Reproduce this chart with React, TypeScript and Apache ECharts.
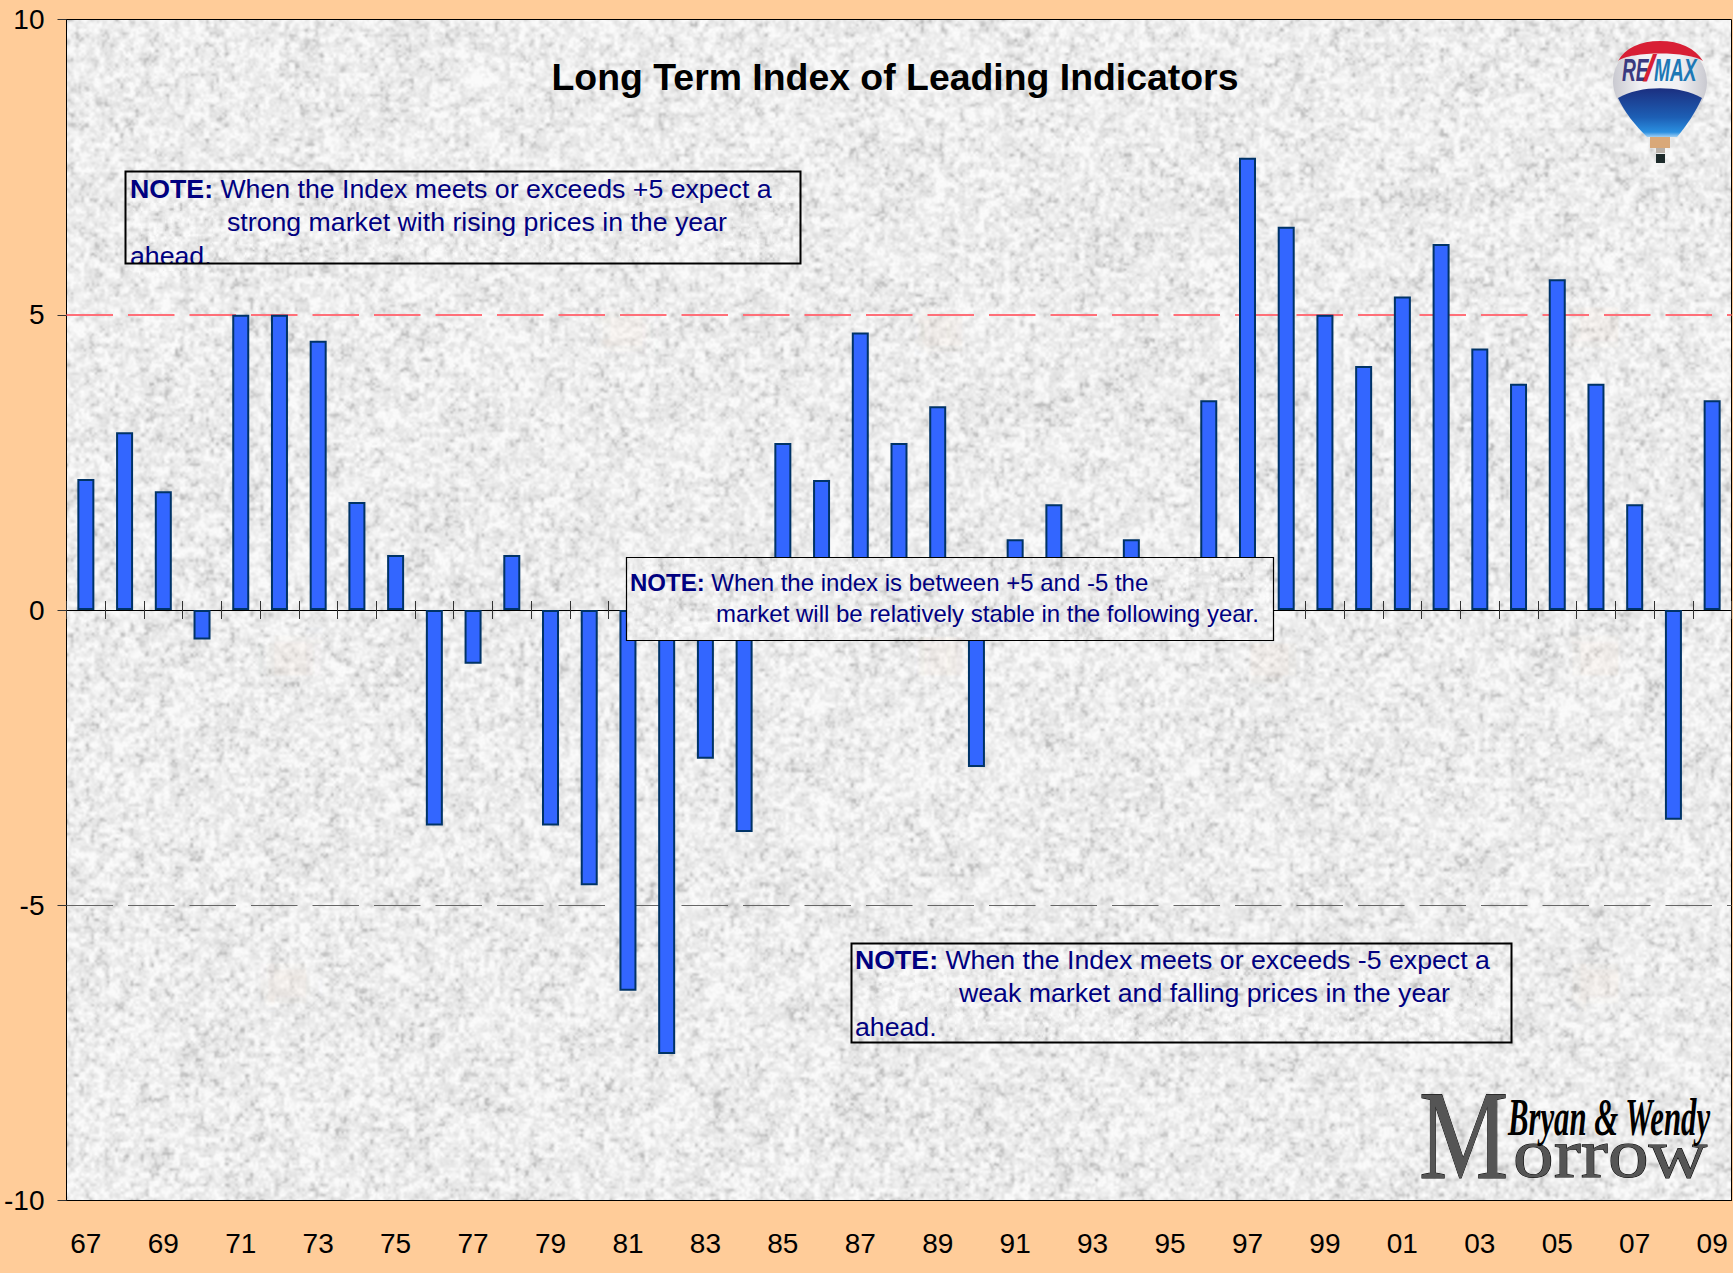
import React, { useEffect, useRef } from "react";
import * as echarts from "echarts";

const years = ["67","68","69","70","71","72","73","74","75","76","77","78","79","80","81","82","83","84","85","86","87","88","89","90","91","92","93","94","95","96","97","98","99","00","01","02","03","04","05","06","07","08","09"];
const indexValues = [2.22,3.01,2.01,-0.5,5.0,5.0,4.56,1.83,0.93,-3.65,-0.91,0.93,-3.65,-4.66,-6.45,-7.52,-2.52,-3.76,2.83,2.2,4.7,2.83,3.45,-2.66,1.2,1.79,0.6,1.2,0.6,3.55,7.66,6.49,5.0,4.13,5.31,6.2,4.43,3.83,5.6,3.83,1.79,-3.55,3.55];
const yTicks = { min: -10, max: 10, step: 5 };
const thresholds = { upper: 5, lower: -5 };
const titleText = "Long Term Index of Leading Indicators";
const watermarks = [[293,657],[625,330],[940,330],[940,657],[1272,660],[1597,657],[1597,326],[287,984],[1597,984]];

const W = 1733, H = 1273;
const PL = 66.5, PT = 19.5, PR = 1731.5, PB = 1200.5;

function makeTexture(w: number, h: number) {
  let s = 12345;
  const rnd = () => { s = (s * 1664525 + 1013904223) >>> 0; return s / 4294967296; };
  const octave = (cell: number) => {
    const gw = Math.ceil(w / cell) + 2, gh = Math.ceil(h / cell) + 2;
    const g = new Float32Array(gw * gh);
    for (let i = 0; i < g.length; i++) g[i] = rnd();
    return (x: number, y: number) => {
      const fx = x / cell, fy = y / cell;
      const ix = Math.floor(fx), iy = Math.floor(fy);
      let tx = fx - ix, ty = fy - iy;
      tx = tx * tx * (3 - 2 * tx); ty = ty * ty * (3 - 2 * ty);
      const a = g[iy * gw + ix], b = g[iy * gw + ix + 1], c = g[(iy + 1) * gw + ix], d = g[(iy + 1) * gw + ix + 1];
      return (a * (1 - tx) + b * tx) * (1 - ty) + (c * (1 - tx) + d * tx) * ty;
    };
  };
  const o1 = octave(5), o2 = octave(2.6), o3 = octave(30);
  const cv = document.createElement("canvas");
  cv.width = w; cv.height = h;
  const ctx = cv.getContext("2d")!;
  const img = ctx.createImageData(w, h);
  for (let y = 0; y < h; y++) {
    for (let x = 0; x < w; x++) {
      const n = 0.55 * o1(x, y) + 0.33 * o2(x, y) + 0.12 * o3(x, y);
      let v = 236 + (n - 0.5) * 62;
      if (n < 0.34) v -= (0.34 - n) * 90;
      v = Math.min(250, Math.max(190, v));
      const i = (y * w + x) * 4;
      img.data[i] = v; img.data[i + 1] = v; img.data[i + 2] = v; img.data[i + 3] = 255;
    }
  }
  ctx.putImageData(img, 0, 0);
  ctx.fillStyle = "rgba(245,232,215,0.2)";
  watermarks.forEach(([cx, cy]) => ctx.fillRect(cx - PL - 21, cy - PT - 18, 42, 36));
  return cv;
}
function crop(cv: HTMLCanvasElement, x: number, y: number, w: number, h: number) {
  const c = document.createElement("canvas");
  c.width = w; c.height = h;
  c.getContext("2d")!.drawImage(cv, x, y, w, h, 0, 0, w, h);
  return c.toDataURL("image/jpeg", 0.85);
}

const envelope = "M1660 41C1690 41 1707 62 1707 82C1707 102 1690 120 1677 137L1647 137C1632 120 1613 102 1613 82C1613 62 1630 41 1660 41Z";
const cap = "M1618 61C1625 48 1640 41 1660 41C1680 41 1695 48 1703 61C1690 51 1630 51 1618 61Z";
const blue = "M1618 98C1640 85 1680 85 1702 98C1695 113 1687 125 1677 137L1647 137C1635 125 1625 113 1618 98Z";
echarts.graphic.registerShape("balloonEnvelope", echarts.graphic.extendPath(envelope, {}));
echarts.graphic.registerShape("balloonCap", echarts.graphic.extendPath(cap, {}));
echarts.graphic.registerShape("balloonBlue", echarts.graphic.extendPath(blue, {}));

const NAVY = "#000080";
const FONT = "'Liberation Sans', Arial, sans-serif";
const SERIF = "'Liberation Serif', serif";

function noteBox(tex: HTMLCanvasElement, x: number, y: number, w: number, h: number, fontSize: number, lines: { x: number; y: number; t: string }[], border: number, clipBottom = 0) {
  const px = Math.round(x), py = Math.round(y), pw = Math.round(w), ph = Math.round(h);
  const els: any[] = [
    { type: "image", x: px, y: py, z: 20, silent: true, style: { image: crop(tex, px - 66, py - 19, pw, ph), width: pw, height: ph } },
  ];
  lines.forEach((l) => els.push({
    type: "text", x: l.x, y: l.y, z: 21, silent: true,
    style: {
      text: l.t, fill: NAVY, font: `${fontSize}px ${FONT}`, verticalAlign: "middle", align: "left",
      rich: { b: { font: `bold ${fontSize}px ${FONT}`, fill: NAVY } },
    },
  }));
  if (clipBottom) {
    els.push({ type: "image", x: px - 2, y: py + ph, z: 22, silent: true, style: { image: crop(tex, px - 68, py + ph - 19, 90, clipBottom), width: 90, height: clipBottom } });
  }
  els.push({ type: "rect", z: 23, silent: true, shape: { x: px + 0.5, y: py + 0.5, width: pw, height: ph }, style: { fill: "none", stroke: "#000", lineWidth: border } });
  return els;
}

export default function App() {
  const ref = useRef<HTMLDivElement>(null);
  useEffect(() => {
    const chart = echarts.init(ref.current!, undefined, { renderer: "svg" });
    const tw = Math.round(PR - PL), th = Math.round(PB - PT);
    const tex = makeTexture(tw, th);
    const graphics: any[] = [
      { type: "image", x: PL, y: PT, z: -1, silent: true, style: { image: tex.toDataURL("image/jpeg", 0.85), width: tw, height: th } },
      { type: "text", x: 895, y: 77, z: 10, silent: true, style: { text: titleText, fill: "#000", font: `bold 37.4px ${FONT}`, align: "center", verticalAlign: "middle" } },
      // balloon
      { type: "balloonEnvelope", z: 10, silent: true, style: { fill: new echarts.graphic.LinearGradient(0, 0, 1, 0, [{ offset: 0, color: "#c9c9d0" }, { offset: 0.3, color: "#f2f2f5" }, { offset: 0.7, color: "#f2f2f5" }, { offset: 1, color: "#c9c9d0" }]) } },
      { type: "balloonCap", z: 11, silent: true, style: { fill: "#d81f35" } },
      { type: "balloonBlue", z: 11, silent: true, style: { fill: new echarts.graphic.LinearGradient(0, 0, 0, 1, [{ offset: 0, color: "#1b2f80" }, { offset: 0.6, color: "#1d5fb5" }, { offset: 0.9, color: "#2a8fe0" }, { offset: 1, color: "#a0d0f5" }]) } },
      { type: "rect", z: 11, silent: true, shape: { x: 1650, y: 137, width: 20, height: 11 }, style: { fill: "#d9a878" } },
      { type: "rect", z: 11, silent: true, shape: { x: 1656, y: 148, width: 9, height: 5 }, style: { fill: "#b8b0a8" } },
      { type: "rect", z: 11, silent: true, shape: { x: 1656, y: 154, width: 9, height: 9 }, style: { fill: "#1c2a2a" } },
      { type: "text", x: 1622, y: 70, z: 12, silent: true, scaleX: 0.6, style: { text: "RE", fill: "#3a3a80", font: `italic bold 32px ${FONT}`, align: "left", verticalAlign: "middle" } },
      { type: "text", x: 1644, y: 68, z: 12, silent: true, style: { text: "/", fill: "#d81f35", font: `italic bold 36px ${FONT}`, align: "left", verticalAlign: "middle" } },
      { type: "text", x: 1654, y: 70, z: 12, silent: true, scaleX: 0.6, style: { text: "MAX", fill: "#1d78b5", font: `italic bold 32px ${FONT}`, align: "left", verticalAlign: "middle" } },
      // Morrow logo
      { type: "text", x: 1419, y: 1135, z: 10, silent: true, scaleX: 0.79, style: { text: "M", fill: "#555", stroke: "#000", lineWidth: 1, font: `127px ${SERIF}`, align: "left", verticalAlign: "middle" } },
      { type: "text", x: 1513, y: 1154, z: 10, silent: true, scaleX: 1.18, style: { text: "orrow", fill: "#555", stroke: "#000", lineWidth: 1, font: `69px ${SERIF}`, align: "left", verticalAlign: "middle" } },
      { type: "text", x: 1508, y: 1117, z: 11, silent: true, scaleX: 0.58, style: { text: "Bryan & Wendy", fill: "#000", font: `italic bold 53px ${SERIF}`, align: "left", verticalAlign: "middle" } },
      ...noteBox(tex, 125, 171, 675, 92, 26.7, [
        { x: 130, y: 189, t: "{b|NOTE:} When the Index meets or exceeds +5 expect a" },
        { x: 227, y: 222, t: "strong market with rising prices in the year" },
        { x: 130, y: 256, t: "ahead." },
      ], 2, 13),
      ...noteBox(tex, 626, 557, 647, 83, 24, [
        { x: 630, y: 582, t: "{b|NOTE:} When the index is between +5 and -5 the" },
        { x: 716, y: 613.5, t: "market will be relatively stable in the following year." },
      ], 1.2),
      ...noteBox(tex, 851, 943, 660, 99, 26.7, [
        { x: 855, y: 960, t: "{b|NOTE:} When the Index meets or exceeds -5 expect a" },
        { x: 959, y: 993, t: "weak market and falling prices in the year" },
        { x: 855, y: 1027, t: "ahead." },
      ], 2),
    ];
    chart.setOption({
      animation: false,
      backgroundColor: "#ffcc99",
      textStyle: { fontFamily: FONT },
      grid: { left: PL, top: PT, width: PR - PL, height: PB - PT, show: true, backgroundColor: "transparent", borderColor: "#000", borderWidth: 1, containLabel: false },
      xAxis: [
        {
          type: "category", data: years, position: "bottom",
          axisLine: { onZero: false, lineStyle: { color: "#000" } },
          axisTick: { show: false },
          axisLabel: { interval: 1, color: "#000", fontSize: 28, margin: 29, fontFamily: FONT },
        },
        {
          type: "category", data: years, position: "bottom",
          axisLine: { onZero: true, onZeroAxisIndex: 0, lineStyle: { color: "#000" } },
          axisTick: { show: true, interval: 0, length: 9, lineStyle: { color: "#333" } },
          axisLabel: { show: false },
        },
        {
          type: "category", data: years, position: "bottom",
          axisLine: { onZero: true, onZeroAxisIndex: 0, lineStyle: { color: "#000" } },
          axisTick: { show: true, interval: 0, inside: true, length: 9, lineStyle: { color: "#333" } },
          axisLabel: { show: false },
        },
      ],
      yAxis: {
        type: "value", min: yTicks.min, max: yTicks.max, interval: yTicks.step,
        axisLine: { show: true, onZero: false, lineStyle: { color: "#000" } },
        axisTick: { show: true, length: 9, lineStyle: { color: "#333" } },
        axisLabel: { color: "#000", fontSize: 28, margin: 22, fontFamily: FONT },
        splitLine: { show: false },
      },
      series: [
        {
          type: "bar", xAxisIndex: 0, data: indexValues, barWidth: 17, z: 5,
          itemStyle: { color: "#3366ff", borderColor: "#003366", borderWidth: 2 },
          markLine: {
            silent: true, symbol: "none", z: 1, label: { show: false },
            data: [
              { yAxis: thresholds.upper, lineStyle: { color: "#ff6f78", type: [46.5, 15], width: 2 } },
              { yAxis: thresholds.lower, lineStyle: { color: "#666", type: [46.5, 15], width: 1 } },
            ],
          },
        },
      ],
      graphic: { elements: graphics },
    });
    return () => chart.dispose();
  }, []);
  return <div ref={ref} style={{ position: "fixed", left: 0, top: 0, width: W, height: H }} />;
}
